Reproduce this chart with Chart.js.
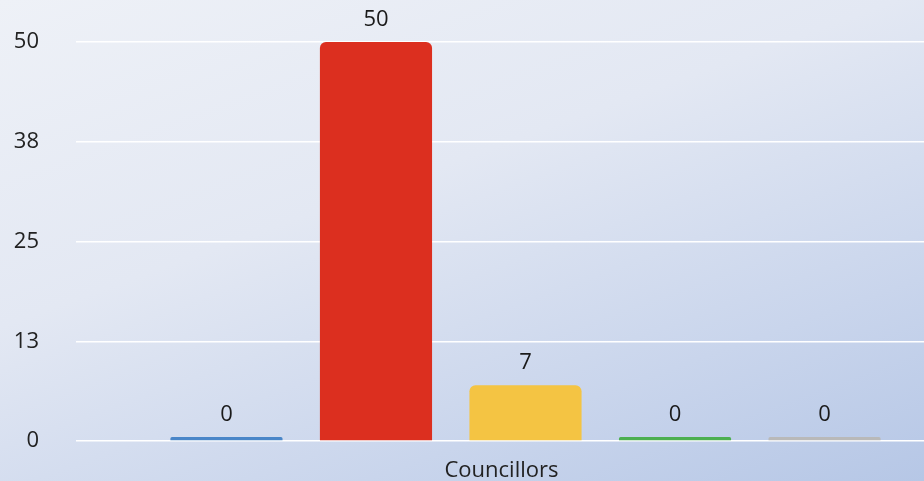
<!DOCTYPE html>
<html>
<head>
<meta charset="utf-8">
<script src="https://cdn.jsdelivr.net/npm/chart.js@4.4.0/dist/chart.umd.min.js"></script>
<style>
  html, body { margin:0; padding:0; }
  body {
    width:924px; height:481px; overflow:hidden;
    background: linear-gradient(160deg, #eef1f7 0%, #e3e8f3 40%, #c9d5ec 75%, #b6c7e6 100%);
  }
  #wrap { width:924px; height:481px; position:relative; }
</style>
</head>
<body>
<div id="wrap"><canvas id="chart"></canvas></div>
<script>
// data
const categories = ['Councillors'];
const seriesNames = ['Party A', 'Party B', 'Party C', 'Party D', 'Other'];
const seriesValues = [[0], [50], [7], [0], [0]];
const seriesColors = ['#4a86c8', '#dc2f1f', '#f4c443', '#4caf50', '#b9b9b9'];
const yTicks = [0, 12.5, 25, 37.5, 50];

const FONT = "'Open Sans', sans-serif";

// draw value above each bar
const valueLabels = {
  id: 'valueLabels',
  afterDatasetsDraw(chart){
    const ctx = chart.ctx;
    ctx.save();
    ctx.font = '22px ' + FONT;
    ctx.fillStyle = '#1a1a1a';
    ctx.textAlign = 'center';
    ctx.textBaseline = 'alphabetic';
    chart.data.datasets.forEach((ds, i) => {
      const meta = chart.getDatasetMeta(i);
      meta.data.forEach((bar, j) => {
        ctx.fillText(String(ds.data[j]), bar.x, bar.y - 16);
      });
    });
    ctx.restore();
  }
};

const datasets = seriesNames.map((name, i) => ({
  label: name,
  data: seriesValues[i],
  backgroundColor: seriesColors[i],
  borderRadius: 6,
  borderSkipped: 'bottom',
  minBarLength: 4,
  barPercentage: 0.75,
  categoryPercentage: 0.938
}));

new Chart(document.getElementById('chart').getContext('2d'), {
  type: 'bar',
  data: { labels: categories, datasets: datasets },
  options: {
    responsive: true,
    maintainAspectRatio: false,
    animation: false,
    layout: { padding: { top: 42, right: 0, left: 0, bottom: 0 } },
    plugins: {
      legend: { display: false },
      tooltip: { enabled: false }
    },
    scales: {
      x: {
        grid: { display: false },
        border: { display: false },
        afterFit(scale){ scale.height = 40; },
        ticks: { color: '#222', font: { family: FONT, size: 22 }, padding: 9, labelOffset: -24 }
      },
      y: {
        min: 0,
        max: 50,
        afterBuildTicks(scale){
          scale.ticks = yTicks.map(v => ({ value: v }));
        },
        afterFit(scale){
          scale.width = 127;
          scale.paddingTop = 0;
          scale.paddingBottom = 0;
        },
        border: { display: false },
        grid: { color: '#ffffff', lineWidth: 1.5, tickLength: 51, drawTicks: true },
        ticks: {
          color: '#222',
          font: { family: FONT, size: 22 },
          padding: 37,
          callback: v => Math.round(v)
        }
      }
    }
  },
  plugins: [valueLabels]
});
</script>
</body>
</html>
